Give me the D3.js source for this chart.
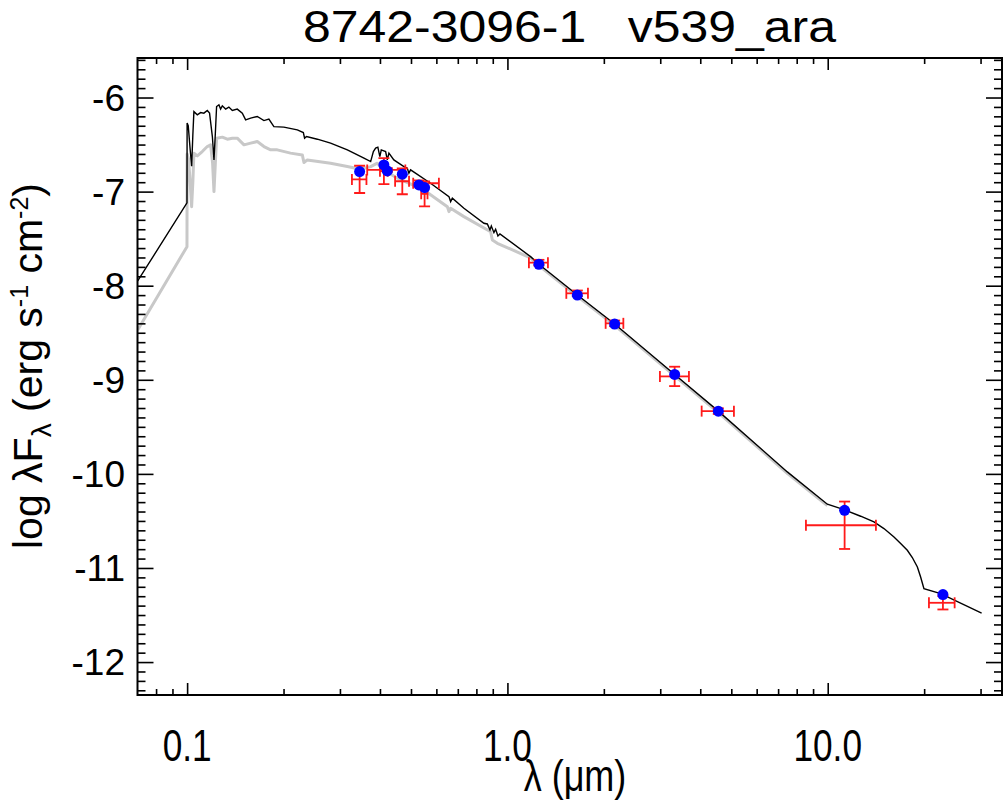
<!DOCTYPE html>
<html><head><meta charset="utf-8">
<script src="https://cdn.jsdelivr.net/npm/d3@7"></script>
<style>body{margin:0;background:#fff}svg{display:block}text{font-family:"Liberation Sans",Arial,sans-serif;fill:#000}</style>
</head><body><svg id="c" width="1006" height="801"></svg>
<script>
// ---- data ----
const titleText = "8742-3096-1   v539_ara";
const xTickValues = [0.1, 1, 10];
const xTickLabels = ["0.1", "1.0", "10.0"];
const xMinorTicks = [0.08,0.09,0.2,0.3,0.4,0.5,0.6,0.7,0.8,0.9,2,3,4,5,6,7,8,9,20,30];
const yTickValues = [-12,-11,-10,-9,-8,-7,-6];
const yTickLabels = ["-12","-11","-10","-9","-8","-7","-6"];

// photometric bands: model (blue dots)
const bandWave = [0.3456,0.4115,0.4217,0.4697,0.5293,0.5513,1.254,1.653,2.161,3.327,4.554,11.29,22.89];
const modelFlux = [-6.787,-6.716,-6.780,-6.815,-6.929,-6.957,-7.772,-8.099,-8.407,-8.943,-9.333,-10.387,-11.283];
// observations (red error bars)
const obsFlux = [-6.87,-6.783,-6.77,-6.89,-6.911,-7.024,-7.755,-8.081,-8.40,-8.964,-9.333,-10.546,-11.37];
const obsFluxErr = [0.145,0.138,0.02,0.138,0.03,0.133,0.03,0.03,0.03,0.103,0.03,0.252,0.071];
const obsWaveLo = [0.327,0.40,0.365,0.446,0.508,0.538,1.167,1.527,2.026,2.993,4.04,8.55,20.7];
const obsWaveHi = [0.363,0.423,0.48,0.493,0.611,0.563,1.338,1.784,2.301,3.687,5.095,14.14,24.9];

// total model spectrum (black)
const blackWave = [0.0701,0.0999,0.1000,0.1008,0.1022,0.1033,0.1042,0.1050,0.1076,0.1102,0.1128,0.1156,0.1175,0.1199,0.1213,0.1225,0.1236,0.1257,0.1272,0.1288,0.1319,0.1350,0.1384,0.1434,0.1487,0.1523,0.1579,0.1656,0.1737,0.1800,0.1866,0.2005,0.2208,0.2306,0.2327,0.2360,0.2550,0.2805,0.3164,0.3565,0.3741,0.3815,0.3877,0.3940,0.3997,0.4038,0.4166,0.4217,0.4266,0.4420,0.4752,0.4869,0.4925,0.4985,0.5755,0.6568,0.6648,0.6730,0.7315,0.8446,0.8654,0.8820,0.8907,0.9076,0.9188,0.9340,0.9476,1.181,1.254,1.653,2.161,3.327,4.554,7.478,9.972,11.236,12.67,13.94,14.98,16.10,16.89,17.72,18.37,19.05,19.5,19.97,22.52,30.23];
const blackFlux = [-7.95,-7.12,-6.27,-6.30,-6.55,-6.73,-6.40,-6.15,-6.184,-6.160,-6.166,-6.138,-6.166,-6.415,-6.663,-6.379,-6.096,-6.078,-6.123,-6.088,-6.123,-6.102,-6.138,-6.123,-6.166,-6.237,-6.219,-6.202,-6.245,-6.23,-6.309,-6.315,-6.344,-6.372,-6.432,-6.415,-6.443,-6.485,-6.556,-6.645,-6.681,-6.574,-6.538,-6.528,-6.628,-6.556,-6.574,-6.663,-6.591,-6.663,-6.734,-6.751,-6.804,-6.769,-6.911,-7.053,-7.106,-7.07,-7.177,-7.336,-7.344,-7.407,-7.365,-7.436,-7.40,-7.471,-7.45,-7.691,-7.772,-8.099,-8.407,-8.943,-9.333,-9.979,-10.322,-10.379,-10.45,-10.511,-10.581,-10.670,-10.740,-10.812,-10.889,-10.989,-11.096,-11.219,-11.272,-11.479];

// stellar photosphere (grey)
const grayWave = [0.0701,0.0999,0.1000,0.1010,0.1022,0.1033,0.1042,0.1050,0.1076,0.1115,0.1156,0.1184,0.1201,0.1213,0.1225,0.1236,0.1288,0.1335,0.1384,0.1434,0.1505,0.1579,0.1656,0.1737,0.1823,0.1912,0.2103,0.2289,0.2316,0.2373,0.2805,0.3164,0.3480,0.3741,0.3925,0.4115,0.4532,0.5486,0.6493,0.6568,0.6648,0.7315,0.8863,0.8973,0.9300,1.181,1.254,1.653,2.161,3.327,4.554,7.478,9.972];
const grayFlux = [-8.47,-7.585,-6.60,-6.65,-6.90,-7.16,-6.90,-6.591,-6.620,-6.574,-6.521,-6.503,-6.698,-7.0,-6.698,-6.432,-6.421,-6.443,-6.432,-6.432,-6.503,-6.485,-6.468,-6.521,-6.556,-6.556,-6.591,-6.610,-6.691,-6.663,-6.698,-6.734,-6.762,-6.734,-6.698,-6.769,-6.857,-6.982,-7.160,-7.213,-7.177,-7.266,-7.426,-7.514,-7.549,-7.705,-7.787,-8.114,-8.422,-8.958,-9.348,-9.994,-10.337];

// ---- layout ----
const L = 137.5, R = 1002, T = 58, B = 695;
const svg = d3.select("#c");
const x = d3.scaleLog().domain([0.07, 35]).range([L, R]);
const y = d3.scaleLinear().domain([-12.35, -5.58]).range([B, T]);

svg.append("defs").append("clipPath").attr("id","clip")
  .append("rect").attr("x",L).attr("y",T).attr("width",R-L).attr("height",B-T);

const plot = svg.append("g").attr("clip-path","url(#clip)");
const line = d3.line().x(d=>x(d[0])).y(d=>y(d[1]));

plot.append("path").datum(grayWave.map((w,i)=>[w,grayFlux[i]]))
  .attr("d",line).attr("fill","none").attr("stroke","#c8c8c8").attr("stroke-width",3).attr("stroke-linejoin","round");
plot.append("path").datum(blackWave.map((w,i)=>[w,blackFlux[i]]))
  .attr("d",line).attr("fill","none").attr("stroke","#000").attr("stroke-width",1.4);

// error bars
const cap = 5.5;
const eb = plot.append("g").attr("stroke","#ff1a1a").attr("stroke-width",1.8).attr("fill","none");
bandWave.forEach((w,i)=>{
  const cx = x(w), cy = y(obsFlux[i]);
  const y0 = y(obsFlux[i]-obsFluxErr[i]), y1 = y(obsFlux[i]+obsFluxErr[i]);
  const x0 = x(obsWaveLo[i]), x1 = x(obsWaveHi[i]);
  eb.append("line").attr("x1",cx).attr("x2",cx).attr("y1",y0).attr("y2",y1);
  eb.append("line").attr("x1",cx-cap).attr("x2",cx+cap).attr("y1",y0).attr("y2",y0);
  eb.append("line").attr("x1",cx-cap).attr("x2",cx+cap).attr("y1",y1).attr("y2",y1);
  eb.append("line").attr("x1",x0).attr("x2",x1).attr("y1",cy).attr("y2",cy);
  eb.append("line").attr("x1",x0).attr("x2",x0).attr("y1",cy-cap).attr("y2",cy+cap);
  eb.append("line").attr("x1",x1).attr("x2",x1).attr("y1",cy-cap).attr("y2",cy+cap);
});
plot.append("g").selectAll("circle").data(bandWave).join("circle")
  .attr("cx",d=>x(d)).attr("cy",(d,i)=>y(modelFlux[i])).attr("r",5.5).attr("fill","#0000ff");

// ---- axes (inward ticks on all sides) ----
function styleAxis(g){ g.select(".domain").remove(); g.selectAll("line").attr("stroke","#000").attr("stroke-width",1.6); g.selectAll("text").remove(); }
svg.append("g").attr("transform",`translate(0,${B})`).call(d3.axisBottom(x).tickValues(xTickValues).tickSize(-12).tickSizeOuter(0)).call(styleAxis);
svg.append("g").attr("transform",`translate(0,${B})`).call(d3.axisBottom(x).tickValues(xMinorTicks).tickSize(-6).tickSizeOuter(0)).call(styleAxis);
svg.append("g").attr("transform",`translate(0,${T})`).call(d3.axisTop(x).tickValues(xTickValues).tickSize(-12).tickSizeOuter(0)).call(styleAxis);
svg.append("g").attr("transform",`translate(0,${T})`).call(d3.axisTop(x).tickValues(xMinorTicks).tickSize(-6).tickSizeOuter(0)).call(styleAxis);
const yMinor = d3.range(-123,-55).map(v=>v/10).filter(v=>v>=-12.35 && v<=-5.58 && Math.abs(v-Math.round(v))>1e-6);
svg.append("g").attr("transform",`translate(${L},0)`).call(d3.axisLeft(y).tickValues(yTickValues).tickSize(-16).tickSizeOuter(0)).call(styleAxis);
svg.append("g").attr("transform",`translate(${L},0)`).call(d3.axisLeft(y).tickValues(yMinor).tickSize(-8).tickSizeOuter(0)).call(styleAxis);
svg.append("g").attr("transform",`translate(${R},0)`).call(d3.axisRight(y).tickValues(yTickValues).tickSize(-16).tickSizeOuter(0)).call(styleAxis);
svg.append("g").attr("transform",`translate(${R},0)`).call(d3.axisRight(y).tickValues(yMinor).tickSize(-8).tickSizeOuter(0)).call(styleAxis);

svg.append("rect").attr("x",L).attr("y",T).attr("width",R-L).attr("height",B-T)
  .attr("fill","none").attr("stroke","#000").attr("stroke-width",2);

// tick labels
xTickValues.forEach((v,i)=>{
  svg.append("text").attr("transform",`translate(${x(v)},761) scale(0.8,1)`)
    .attr("text-anchor","middle").attr("font-size",44).text(xTickLabels[i]);
});
yTickValues.forEach((v,i)=>{
  svg.append("text").attr("x",125).attr("y",y(v)+13)
    .attr("text-anchor","end").attr("font-size",37).text(yTickLabels[i]);
});

// title
svg.append("text").attr("transform","translate(303,41.5) scale(1.11,1)")
  .attr("font-size",45).style("white-space","pre").text(titleText);

// x label
svg.append("text").attr("transform","translate(575,791) scale(0.8,1)").attr("text-anchor","middle")
  .attr("font-size",45).text("λ (μm)");

// y label
const yl = svg.append("text").attr("transform","translate(42,366) rotate(-90)").attr("text-anchor","middle").attr("font-size",41);
yl.append("tspan").text("log λF");
yl.append("tspan").attr("font-size",28).attr("dy",9).text("λ");
yl.append("tspan").attr("dy",-9).text(" (erg s");
yl.append("tspan").attr("font-size",25).attr("dy",-14).text("-1");
yl.append("tspan").attr("dy",14).text(" cm");
yl.append("tspan").attr("font-size",25).attr("dy",-14).text("-2");
yl.append("tspan").attr("dy",14).text(")");
</script></body></html>
